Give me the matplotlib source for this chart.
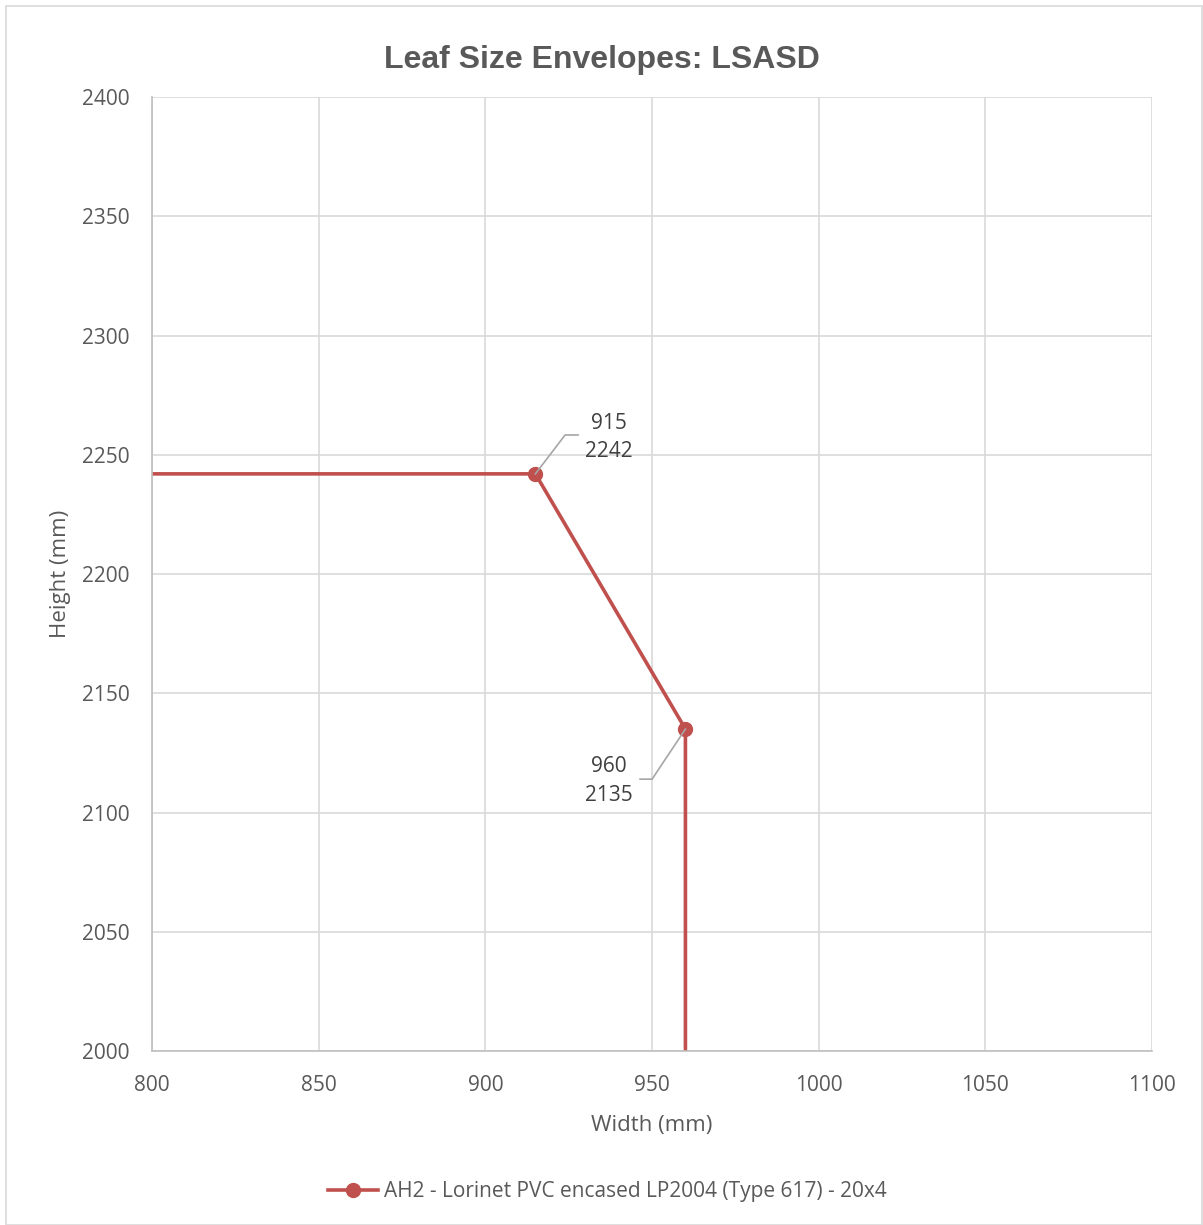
import matplotlib.pyplot as plt
from matplotlib.patches import Rectangle

# envelope data (ends run off the plot area)
width_mm = [790, 915, 960, 960]
height_mm = [2242, 2242, 2135, 1990]
labelled = [1, 2]
series_name = "AH2 - Lorinet PVC encased LP2004 (Type 617) - 20x4"

x_ticks = [800, 850, 900, 950, 1000, 1050, 1100]
y_ticks = [2000, 2050, 2100, 2150, 2200, 2250, 2300, 2350, 2400]

red = "#C0504D"
txt = "#595959"
grid = "#D9D9D9"

plt.rcParams['font.family'] = ['Open Sans', 'DejaVu Sans']

fig = plt.figure(figsize=(12.03, 12.25), dpi=100)
fig.patches.append(Rectangle((0.005, 0.0), 0.994, 0.995, transform=fig.transFigure,
                             fill=False, edgecolor="#D9D9D9", linewidth=1.2))

ax = fig.add_axes([0.1264, 0.142, 0.8313, 0.7788])
ax.set_xlim(800, 1100)
ax.set_ylim(2000, 2400)
ax.set_xticks(x_ticks)
ax.set_yticks(y_ticks)
ax.grid(True, color=grid, linewidth=1.2)
ax.set_axisbelow(True)
for s in ["top", "right"]:
    ax.spines[s].set_visible(False)
for s in ["left", "bottom"]:
    ax.spines[s].set_color("#BFBFBF")
    ax.spines[s].set_linewidth(1.2)
ax.tick_params(length=0, labelsize=15, colors=txt)
ax.tick_params(axis="x", pad=17)
ax.tick_params(axis="y", pad=16)

ax.plot(width_mm, height_mm, color=red, linewidth=2.6, marker="o", markersize=10,
        markevery=labelled, label=series_name, clip_on=True)

# data labels with leader lines
offsets = [(22.1, 15.4, 8.9, 16.3, 12.8), (-22.9, -21.8, -10.0, -21.0, -13.6)]
for i, (dx, dy, kx, ky, hx) in zip(labelled, offsets):
    px, py = width_mm[i], height_mm[i]
    ax.plot([px, px + kx, px + hx], [py, py + ky, py + ky], color="#A6A6A6", linewidth=1.2)
    ax.text(px + dx, py + dy, f"{px}\n{py}", ha="center", va="center", fontsize=15,
            color="#404040", linespacing=1.45)

ax.set_xlabel("Width (mm)", fontsize=16, color=txt, labelpad=14)
ax.set_ylabel("Height (mm)", fontsize=16, color=txt, labelpad=8)
fig.text(0.5, 0.951, "Leaf Size Envelopes: LSASD", ha="center", va="center",
         fontsize=23, fontweight="bold", color=txt, family=["Liberation Sans", "DejaVu Sans"])

fig.legend(loc="center", bbox_to_anchor=(0.505, 0.027), frameon=False, fontsize=15,
           labelcolor=txt, handlelength=2.4, handletextpad=0.3)

fig.savefig("out.png", dpi=100)
